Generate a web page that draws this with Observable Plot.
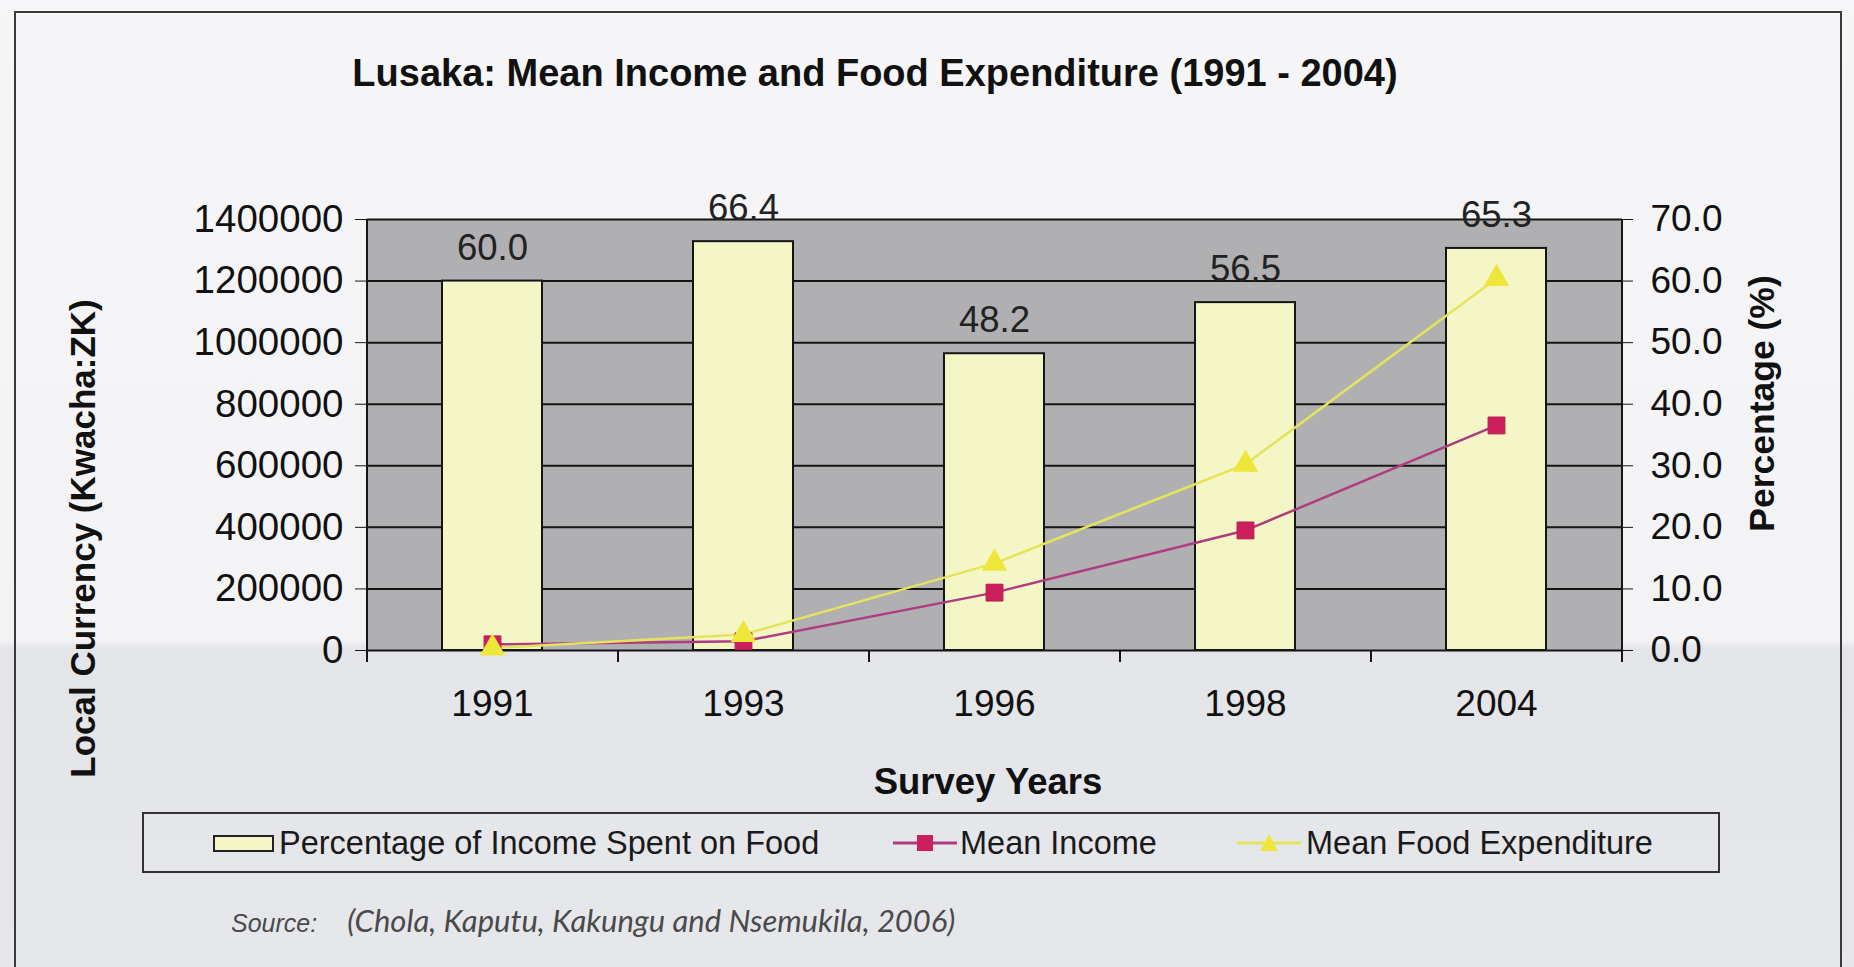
<!DOCTYPE html>
<html>
<head>
<meta charset="utf-8">
<script src="https://cdn.jsdelivr.net/npm/d3@7"></script>
<script src="https://cdn.jsdelivr.net/npm/@observablehq/plot@0.6"></script>
<style>
html,body{margin:0;padding:0;}
body{width:1854px;height:967px;position:relative;overflow:hidden;
  background:linear-gradient(#f6f6f8 0px,#f3f3f5 640px,#e4e5e9 648px,#e6e7ea 967px);
  font-family:"Liberation Sans",Arial,sans-serif;color:#111;}
#outer{position:absolute;left:14px;top:11px;width:1828px;height:1000px;border:2px solid #3a3a3a;border-bottom:none;box-sizing:border-box;}
#title{position:absolute;left:0;width:1750px;text-align:center;top:51px;font-weight:bold;font-size:38px;line-height:44px;}
#chart{position:absolute;left:0;top:120px;}
#legend{position:absolute;left:142px;top:812px;width:1578px;height:61px;border:2px solid #333;box-sizing:border-box;}
.lg{position:absolute;font-size:32.5px;line-height:36px;top:825px;white-space:nowrap;color:#1a1a1a;}
#swatch{position:absolute;left:213px;top:835px;width:61px;height:17px;background:#f5f6c6;border:2px solid #222;box-sizing:border-box;}
.sample{position:absolute;top:828px;}
#source{position:absolute;left:231px;top:902px;line-height:36px;color:#4a4a4a;white-space:nowrap;}
#source .s1{font-family:"Liberation Sans",Arial,sans-serif;font-style:italic;font-size:25px;margin-right:30px;}
#source .s2{font-family:Lato,"Open Sans",sans-serif;font-style:italic;font-size:31px;}
</style>
</head>
<body>
<div id="outer"></div>
<div id="title"></div>
<div id="chart"></div>
<div id="legend"></div>
<div id="swatch"></div>
<div class="lg" id="lg1" style="left:279px"></div>
<svg class="sample" style="left:893px" width="64" height="30"><line x1="0" x2="64" y1="15" y2="15" stroke="#b03c80" stroke-width="3"/><rect x="24" y="7" width="16" height="16" fill="#cc1f5e"/></svg>
<div class="lg" id="lg2" style="left:960px"></div>
<svg class="sample" style="left:1237px" width="64" height="30"><line x1="0" x2="64" y1="15" y2="15" stroke="#e4e45c" stroke-width="3"/><path d="M32,6 L41,23 L23,23 Z" fill="#eee63a"/></svg>
<div class="lg" id="lg3" style="left:1306px"></div>
<div id="source"><span class="s1">Source:</span><span class="s2">(Chola, Kaputu, Kakungu and Nsemukila, 2006)</span></div>
<script>
// ---- data ----
const titleText = "Lusaka: Mean Income and Food Expenditure (1991 - 2004)";
const years = ["1991", "1993", "1996", "1998", "2004"];
const pctIncomeOnFood = [60.0, 66.4, 48.2, 56.5, 65.3];
const meanIncome = [20000, 30000, 188000, 390000, 731000];
const meanFoodExpenditure = [8000, 52000, 283000, 605000, 1208000];
const leftTicks = [0, 200000, 400000, 600000, 800000, 1000000, 1200000, 1400000];
const rightTicks = [0, 10, 20, 30, 40, 50, 60, 70];
const seriesNames = ["Percentage of Income Spent on Food", "Mean Income", "Mean Food Expenditure"];
const xTitle = "Survey Years";
const yLeftTitle = "Local Currency (Kwacha:ZK)";
const yRightTitle = "Percentage (%)";

document.getElementById("title").textContent = titleText;
document.getElementById("lg1").textContent = seriesNames[0];
document.getElementById("lg2").textContent = seriesNames[1];
document.getElementById("lg3").textContent = seriesNames[2];

const kwMax = leftTicks[leftTicks.length - 1];
const pctMax = rightTicks[rightTicks.length - 1];
const k = kwMax / pctMax; // percent -> left-axis units

const rows = years.map((y, i) => ({
  year: y, pct: pctIncomeOnFood[i], income: meanIncome[i], food: meanFoodExpenditure[i]
}));

const W = 1854, H = 690, mL = 367, mR = 232, mT = 99, mB = 160;
const frameH = H - mT - mB;
const step = (W - mL - mR) / years.length;
const black = "#151515";

const chart = Plot.plot({
  width: W, height: H,
  marginLeft: mL, marginRight: mR, marginTop: mT, marginBottom: mB,
  style: {background: "transparent", fontFamily: "'Liberation Sans', Arial, sans-serif", fontSize: "37px", color: "#111", overflow: "visible"},
  x: {type: "band", domain: years, paddingInner: 0.6, paddingOuter: 0.3},
  y: {domain: [0, kwMax]},
  marks: [
    Plot.frame({fill: "#b0b0b3", stroke: null}),
    Plot.ruleY(leftTicks, {stroke: black, strokeWidth: 2}),
    Plot.barY(rows, {x: "year", y: d => d.pct * k, fill: "#f5f6c6", stroke: black, strokeWidth: 2}),
    Plot.text(rows, {x: "year", y: d => d.pct * k, text: d => d.pct.toFixed(1), dy: -33, fontSize: 36.5, fill: "#222"}),
    // axis lines (left / right edges of plot area) and category-boundary ticks
    Plot.ruleX([years[0]], {dx: -step / 2, stroke: black, strokeWidth: 2, insetBottom: -12}),
    Plot.ruleX([years[years.length - 1]], {dx: step / 2, stroke: black, strokeWidth: 2, insetBottom: -12}),
    Plot.ruleX(years.slice(1), {dx: -step / 2, stroke: black, strokeWidth: 2, insetTop: frameH, insetBottom: -12}),
    Plot.line(rows, {x: "year", y: "income", stroke: "#b03c80", strokeWidth: 2.5}),
    Plot.line(rows, {x: "year", y: "food", stroke: "#e4e45c", strokeWidth: 2.5}),
    Plot.dot(rows, {x: "year", y: "income", symbol: "square", r: 9.5, fill: "#cc1f5e", stroke: "#b81a52", strokeWidth: 1}),
    Plot.dot(rows, {x: "year", y: "food", symbol: "triangle", r: 9.5, fill: "#eee63a"}),
    Plot.axisY({anchor: "left", ticks: leftTicks, tickSize: 12, tickPadding: 12, tickFormat: d => String(d), fontSize: 38.5, label: null, stroke: black}),
    Plot.axisY({anchor: "right", ticks: rightTicks.map(p => p * k), tickSize: 10, tickPadding: 18, tickFormat: d => (d / k).toFixed(1), fontSize: 37, label: null, stroke: black}),
    Plot.axisX({ticks: years, tickSize: 0, tickPadding: 39, fontSize: 37, label: null}),
    Plot.text([yLeftTitle], {text: d => d, frameAnchor: "left", textAnchor: "middle", rotate: -90, dx: -284, dy: 103.5, fontWeight: "bold", fontSize: 35, fill: "#111"}),
    Plot.text([yRightTitle], {text: d => d, frameAnchor: "right", textAnchor: "middle", rotate: -90, dx: 140, dy: -31.5, fontWeight: "bold", fontSize: 35.5, fill: "#111"}),
    Plot.text([xTitle], {text: d => d, frameAnchor: "bottom", dx: -7, dy: 143, fontWeight: "bold", fontSize: 36.5, fill: "#111"})
  ]
});
document.getElementById("chart").appendChild(chart);
</script>
</body>
</html>
